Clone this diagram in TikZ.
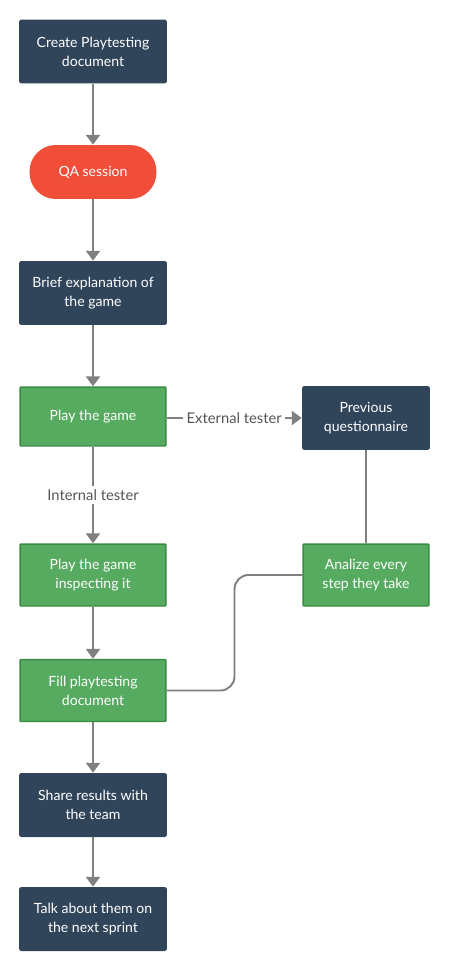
\documentclass[tikz,border=0pt]{standalone}
\usepackage{fontspec}
\setmainfont{Lato}
\usetikzlibrary{arrows.meta, positioning, calc}
\definecolor{CNavy}{HTML}{30445A}
\definecolor{CRed}{HTML}{F04E38}
\definecolor{CGreen}{HTML}{56AB60}
\definecolor{CGreenDark}{HTML}{3A8B43}
\definecolor{CLink}{HTML}{808080}
\definecolor{CLabel}{HTML}{555555}

\begin{document}
\begin{tikzpicture}[
    x=0.02cm, y=-0.02cm,
    % Reusable styles for the flow chart
    step box/.style={fill=CNavy, draw=none, rounded corners=1pt, text=white,
        minimum width=2.96cm, minimum height=1.28cm, align=center,
        font=\fontsize{8}{10.8}\selectfont},
    play box/.style={step box, fill=CGreen, draw=CGreenDark, line width=0.85pt, rounded corners=0.5pt,
        minimum width=2.92cm, minimum height=1.24cm},
    side/.style={minimum width=2.52cm},
    qa pill/.style={rectangle, rounded corners=15pt, fill=CRed, draw=none, text=white,
        minimum width=2.54cm, minimum height=1.08cm, font=\fontsize{8}{10.8}\selectfont},
    link/.style={draw=CLink, line width=1.1pt},
    flow/.style={link, -{Triangle[width=8pt, length=5.6pt]}},
    edge label/.style={fill=white, text=CLabel, inner sep=2pt, font=\fontsize{8.4}{10}\selectfont}
]
    \useasboundingbox (0,0) rectangle (450,969);

    % -------------------------
    % Main column
    % -------------------------
    \node[step box] (create) at (93, 51.5) {Create Playtesting\\document};
    \node[qa pill] (qa) at (93, 172) {QA session};
    \node[step box] (brief) at (93, 293) {Brief explanation of\\the game};
    \node[play box, minimum height=1.18cm] (play) at (93, 416.5) {Play the game};
    \node[play box] (inspect) at (93, 575) {Play the game\\inspecting it};
    \node[play box] (fill) at (93, 690.5) {Fill playtesting\\document};
    \node[step box] (share) at (93, 805) {Share results with\\the team};
    \node[step box] (talk) at (93, 919) {Talk about them on\\the next sprint};

    % -------------------------
    % External tester branch
    % -------------------------
    \node[step box, minimum width=2.56cm] (previous) at (366, 418) {Previous\\questionnaire};
    \node[play box, side] (analize) at (366, 575) {Analize every\\step they take};
    \coordinate (bend) at (234.5, 632);

    % Connectors
    \draw[flow] (create) -- (qa);
    \draw[flow] (qa) -- (brief);
    \draw[flow] (brief) -- (play);
    \draw[flow] (play.east |- previous.west) -- node[edge label] {External tester} (previous.west);
    \draw[flow] (play) -- node[edge label] {Internal tester} (inspect);
    \draw[flow] (inspect) -- (fill);
    \draw[flow] (fill) -- (share);
    \draw[flow] (share) -- (talk);
    \draw[link] (previous) -- (analize);
    \draw[link, rounded corners=8pt] (fill.east) -| (bend) |- (analize.west);

\end{tikzpicture}
\end{document}
